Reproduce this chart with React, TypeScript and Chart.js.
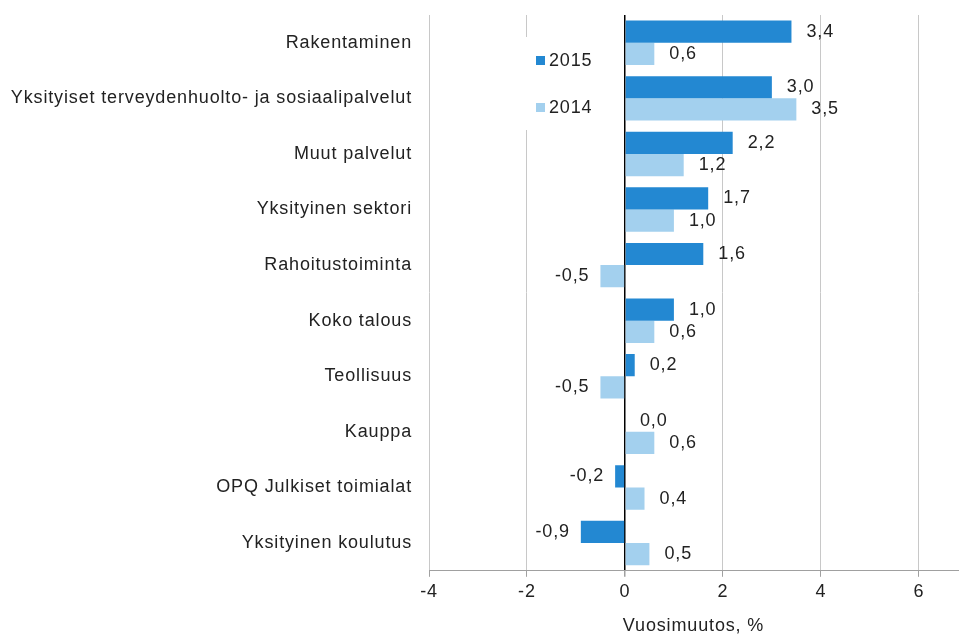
import React, { useEffect, useRef } from "react";
import { Chart, registerables } from "chart.js";

Chart.register(...registerables);

const categories = [
  "Rakentaminen",
  "Yksityiset terveydenhuolto- ja sosiaalipalvelut",
  "Muut palvelut",
  "Yksityinen sektori",
  "Rahoitustoiminta",
  "Koko talous",
  "Teollisuus",
  "Kauppa",
  "OPQ Julkiset toimialat",
  "Yksityinen koulutus",
];
const values2015 = [3.4, 3.0, 2.2, 1.7, 1.6, 1.0, 0.2, 0.0, -0.2, -0.9];
const values2014 = [0.6, 3.5, 1.2, 1.0, -0.5, 0.6, -0.5, 0.6, 0.4, 0.5];
const seriesNames = ["2015", "2014"];
const xTicks = [-4, -2, 0, 2, 4, 6];
const xTitle = "Vuosimuutos, %";

const COLOR_2015 = "#2388d2";
const COLOR_2014 = "#a3d0ee";
const TEXT = "#222222";
const FONT = "'Liberation Sans', Arial, sans-serif";
const SPACING = "0.85px";

const spacingPlugin = {
  id: "spacing",
  beforeInit(chart: any) {
    chart.ctx.letterSpacing = SPACING;
  },
  beforeUpdate(chart: any) {
    chart.ctx.letterSpacing = SPACING;
  },
  beforeDraw(chart: any) {
    chart.ctx.letterSpacing = SPACING;
  },
};

const valueLabels = {
  id: "valueLabels",
  afterDatasetsDraw(chart: any) {
    const ctx = chart.ctx;
    ctx.save();
    ctx.letterSpacing = SPACING;
    ctx.font = `18px ${FONT}`;
    ctx.fillStyle = TEXT;
    ctx.textBaseline = "middle";
    chart.data.datasets.forEach((ds: any, di: number) => {
      const meta = chart.getDatasetMeta(di);
      meta.data.forEach((bar: any, i: number) => {
        const v = ds.data[i];
        const txt = v.toFixed(1).replace(".", ",");
        if (v < 0) {
          ctx.textAlign = "right";
          ctx.fillText(txt, bar.x - 11, bar.y);
        } else {
          ctx.textAlign = "left";
          ctx.fillText(txt, bar.x + 15, bar.y);
        }
      });
    });
    ctx.restore();
  },
};

const boxLegend = {
  id: "boxLegend",
  afterDatasetsDraw(chart: any) {
    const ctx = chart.ctx;
    ctx.save();
    ctx.letterSpacing = SPACING;
    ctx.fillStyle = "#ffffff";
    ctx.fillRect(520, 37, 90, 93);
    ctx.font = `18px ${FONT}`;
    ctx.textBaseline = "middle";
    ctx.textAlign = "left";
    const items = [
      { name: seriesNames[0], color: COLOR_2015, y: 60 },
      { name: seriesNames[1], color: COLOR_2014, y: 107 },
    ];
    items.forEach((it) => {
      ctx.fillStyle = it.color;
      ctx.fillRect(536, it.y - 4, 9, 9);
      ctx.fillStyle = TEXT;
      ctx.fillText(it.name, 549, it.y + 1);
    });
    ctx.restore();
  },
};

export default function App() {
  const ref = useRef<HTMLCanvasElement>(null);
  useEffect(() => {
    document.body.style.margin = "0";
    const chart = new Chart(ref.current as HTMLCanvasElement, {
      type: "bar",
      data: {
        labels: categories,
        datasets: [
          {
            label: seriesNames[0],
            data: values2015,
            backgroundColor: COLOR_2015,
            categoryPercentage: 0.8,
            barPercentage: 1.0,
          },
          {
            label: seriesNames[1],
            data: values2014,
            backgroundColor: COLOR_2014,
            categoryPercentage: 0.8,
            barPercentage: 1.0,
          },
        ],
      },
      options: {
        indexAxis: "y",
        responsive: false,
        animation: false,
        layout: { padding: { top: 15, right: 1, left: 0, bottom: 0 } },
        plugins: {
          legend: { display: false },
          tooltip: { enabled: false },
        },
        scales: {
          x: {
            min: -4,
            max: 6.8,
            afterBuildTicks(scale: any) {
              scale.ticks = xTicks.map((v) => ({ value: v }));
            },
            grid: {
              color: (c: any) => (c.tick && c.tick.value === 0 ? "#000000" : "#c8c8c8"),
              lineWidth: (c: any) => (c.tick && c.tick.value === 0 ? 1.5 : 1),
              tickLength: 6,
              tickColor: "#a0a0a0",
            },
            border: { display: true, color: "#a0a0a0", width: 1 },
            ticks: {
              color: TEXT,
              font: { family: FONT, size: 18 },
              padding: 4,
            },
            title: {
              display: true,
              text: xTitle,
              color: TEXT,
              font: { family: FONT, size: 18 },
              padding: { top: 9, bottom: -2 },
            },
          },
          y: {
            grid: { display: false, drawTicks: false },
            border: { display: false },
            ticks: {
              color: TEXT,
              font: { family: FONT, size: 18 },
              padding: 17,
            },
            afterFit(scale: any) {
              scale.width = 429;
              scale.paddingTop = 0;
              scale.paddingBottom = 0;
            },
          },
        },
      },
      plugins: [spacingPlugin, valueLabels, boxLegend],
    } as any);
    return () => chart.destroy();
  }, []);
  return <canvas ref={ref} width={959} height={635} style={{ display: "block" }} />;
}
